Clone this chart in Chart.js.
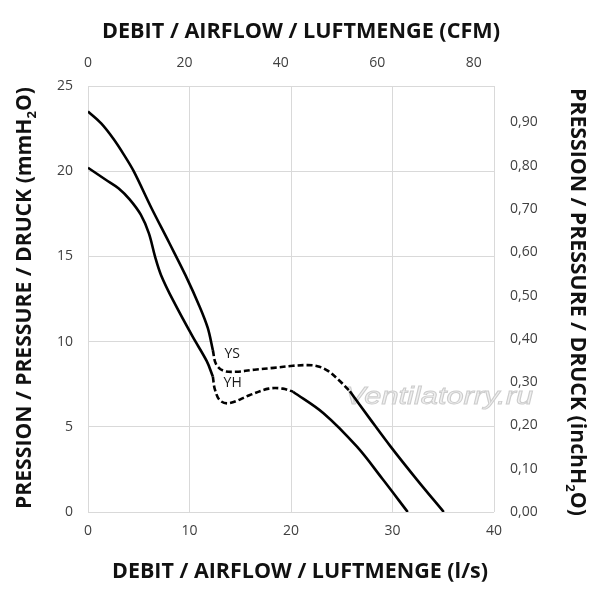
<!doctype html>
<html>

<head>
	<title>Fan curve YS / YH</title>
	<script src="https://cdn.jsdelivr.net/npm/chart.js@4.4.1/dist/chart.umd.min.js"></script>
	<style>
	body {
		margin: 0;
		background: #fff;
	}
	.chart-container {
		width: 600px;
		height: 600px;
	}
	</style>
</head>

<body>
	<div class="chart-container"><canvas id="chart" width="600" height="600"></canvas></div>
	<script>
		// airflow (l/s), pressure (mmH2O)
		var ysSolidA = [[0, 23.5], [1.3, 22.8], [2.5, 21.9], [3.5, 21.0], [4.5, 20.0], [6.2, 17.9], [8.0, 15.8],
			[9.6, 13.9], [11.0, 12.05], [11.8, 10.8], [12.3, 9.5]];
		var ysDashed = [[12.3, 9.5], [12.6, 8.7], [13.3, 8.3], [14.6, 8.23], [16.4, 8.35], [18.3, 8.46], [20.2, 8.58],
			[21.6, 8.62], [22.6, 8.56], [23.6, 8.3], [24.7, 7.75], [25.8, 7.08]];
		var ysSolidB = [[25.8, 7.08], [27.8, 5.45], [29.8, 3.85], [32.4, 1.9], [35.05, 0]];

		var yhSolidA = [[0, 20.2], [1.75, 19.5], [3.0, 19.0], [4.1, 18.35], [5.2, 17.45], [6.0, 16.35], [6.6, 15.0],
			[7.2, 13.9], [8.4, 12.4], [10.3, 10.3], [11.7, 8.85], [12.3, 7.95]];
		var yhDashed = [[12.3, 7.95], [12.5, 7.2], [13.0, 6.55], [13.9, 6.38], [15.9, 6.85], [17.8, 7.24],
			[19.2, 7.24], [20.2, 7.06]];
		var yhSolidB = [[20.2, 7.06], [23.2, 5.8], [26.5, 3.83], [29.0, 1.95], [31.5, 0]];

		var curveNames = ['YS', 'YH'];
		var curveNameAt = [[14.2, 9.25], [14.25, 7.55]];

		var xTicksLs = [0, 10, 20, 30, 40];
		var cfmMax = 84.2;
		var inchMax = 25 / 25.4;
		var watermark = 'Ventilatorry.ru';

		var tickFont = {family: '"Open Sans", sans-serif', size: 14};
		var tickColor = '#404040';
		var gridColor = '#d9d9d9';

		function segment(points, dashed) {
			return {
				data: points.map(function(p) {
					return {x: p[0], y: p[1]};
				}),
				borderColor: '#000',
				borderWidth: 2.6,
				borderDash: dashed ? [6, 3] : [],
				pointRadius: 0,
				tension: 0.35,
				fill: false,
				xAxisID: 'x',
				yAxisID: 'y'
			};
		}

		function drawTitle(ctx, parts, cx, cy, angle, fitWidth) {
			var big = 'bold 21px "Open Sans", sans-serif';
			var small = 'bold 13px "Open Sans", sans-serif';
			ctx.save();
			ctx.translate(cx, cy);
			ctx.rotate(angle);
			var w = 0;
			parts.forEach(function(p) {
				ctx.font = p.sub ? small : big;
				p.w = ctx.measureText(p.t).width;
				w += p.w;
			});
			ctx.scale(fitWidth / w, 1);
			ctx.textAlign = 'left';
			ctx.textBaseline = 'middle';
			ctx.fillStyle = '#111';
			var x = -w / 2;
			parts.forEach(function(p) {
				ctx.font = p.sub ? small : big;
				ctx.fillText(p.t, x, p.sub ? 7 : 0);
				x += p.w;
			});
			ctx.restore();
		}

		var decorations = {
			id: 'decorations',
			beforeDatasetsDraw: function(chart) {
				var ctx = chart.ctx;
				ctx.save();
				ctx.font = 'italic 24px "Liberation Sans", sans-serif';
				var w = ctx.measureText(watermark).width;
				ctx.translate(439, 397);
				ctx.scale(188 / w, 1);
				ctx.textAlign = 'center';
				ctx.textBaseline = 'middle';
				ctx.fillStyle = '#f0f0f0';
				ctx.strokeStyle = '#cdcdcd';
				ctx.lineWidth = 0.9;
				ctx.fillText(watermark, 0, 0);
				ctx.strokeText(watermark, 0, 0);
				ctx.restore();
			},
			afterDraw: function(chart) {
				var ctx = chart.ctx;
				var xs = chart.scales.x, ys = chart.scales.y;
				ctx.save();
				ctx.font = '14px "Open Sans", sans-serif';
				ctx.fillStyle = '#1a1a1a';
				ctx.textAlign = 'center';
				ctx.textBaseline = 'middle';
				curveNames.forEach(function(name, i) {
					ctx.fillText(name, xs.getPixelForValue(curveNameAt[i][0]), ys.getPixelForValue(curveNameAt[i][1]));
				});
				ctx.restore();

				drawTitle(ctx, [{t: 'DEBIT / AIRFLOW / LUFTMENGE (CFM)'}], 301, 32, 0, 398);
				drawTitle(ctx, [{t: 'DEBIT / AIRFLOW / LUFTMENGE (l/s)'}], 300, 572, 0, 376);
				drawTitle(ctx, [{t: 'PRESSION / PRESSURE / DRUCK (mmH'}, {t: '2', sub: true}, {t: 'O)'}],
					25, 298, -Math.PI / 2, 422);
				drawTitle(ctx, [{t: 'PRESSION / PRESSURE / DRUCK (inchH'}, {t: '2', sub: true}, {t: 'O)'}],
					577, 302, Math.PI / 2, 428);
			}
		};

		window.onload = function() {
			var ctx = document.getElementById('chart').getContext('2d');
			new Chart(ctx, {
				type: 'line',
				data: {
					datasets: [
						segment(ysSolidA, false), segment(ysDashed, true), segment(ysSolidB, false),
						segment(yhSolidA, false), segment(yhDashed, true), segment(yhSolidB, false)
					]
				},
				options: {
					responsive: false,
					animation: false,
					layout: {padding: 0},
					plugins: {
						legend: {display: false},
						tooltip: {enabled: false}
					},
					scales: {
						x: {
							type: 'linear',
							position: 'bottom',
							min: 0,
							max: 40,
							afterBuildTicks: function(s) {
								s.ticks = xTicksLs.map(function(v) {
									return {value: v};
								});
							},
							ticks: {padding: 11, font: tickFont, color: tickColor},
							grid: {color: gridColor, drawTicks: false},
							border: {display: false},
							afterFit: function(s) {
								s.height = 88;
							}
						},
						x2: {
							type: 'linear',
							position: 'top',
							min: 0,
							max: cfmMax,
							ticks: {stepSize: 20, includeBounds: false, padding: 15, font: tickFont, color: tickColor},
							grid: {display: false, drawTicks: false},
							border: {display: false},
							afterFit: function(s) {
								s.height = 86;
							}
						},
						y: {
							type: 'linear',
							position: 'left',
							min: 0,
							max: 25,
							ticks: {stepSize: 5, padding: 15, font: tickFont, color: tickColor},
							grid: {color: gridColor, drawTicks: false},
							border: {display: false},
							afterFit: function(s) {
								s.width = 88;
							}
						},
						y2: {
							type: 'linear',
							position: 'right',
							min: 0,
							max: inchMax,
							ticks: {
								stepSize: 0.1,
								includeBounds: false,
								padding: 16,
								font: tickFont,
								color: tickColor,
								callback: function(v) {
									return v.toFixed(2).replace('.', ',');
								}
							},
							grid: {display: false, drawTicks: false},
							border: {display: false},
							afterFit: function(s) {
								s.width = 106;
							}
						}
					}
				},
				plugins: [decorations]
			});
		};
	</script>
</body>

</html>
